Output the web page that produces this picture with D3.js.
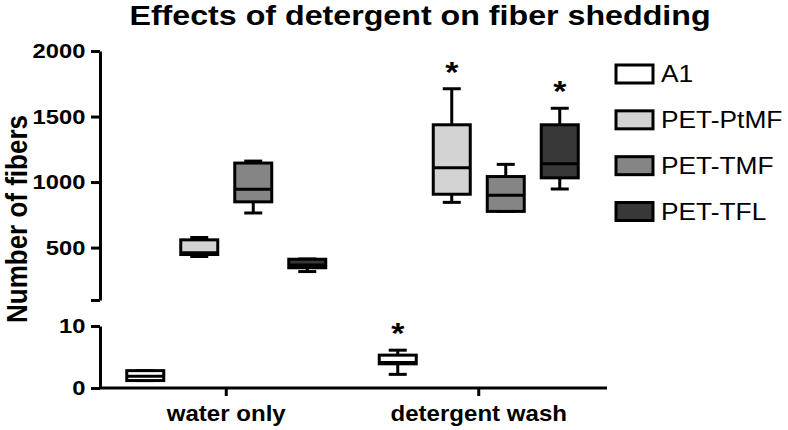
<!DOCTYPE html>
<html>
<head>
<meta charset="utf-8">
<script src="https://cdn.jsdelivr.net/npm/d3@7"></script>
<style>
  body { margin: 0; background: #fff; }
  text { font-family: "Liberation Sans", Arial, sans-serif; fill: #000; }
</style>
</head>
<body>
<div id="chart-area"></div>
<script>
// Data //
const conditions = ["water only", "detergent wash"];
const series = ["A1", "PET-PtMF", "PET-TMF", "PET-TFL"];
const fills = ["#ffffff", "#d3d3d3", "#858585", "#383838"];

// [min, q1, median, q3, max] per condition (water only, detergent wash)
const a1Stats    = [[1.2, 1.2, 1.9, 2.8, 2.8], [2.2, 3.9, 4.1, 5.3, 6.1]];
const ptmfStats  = [[432, 447, 461, 559, 577], [845, 907, 1110, 1437, 1712]];
const tmfStats   = [[764, 849, 945, 1145, 1160], [776, 776, 900, 1042, 1135]];
const tflStats   = [[317, 346, 367, 411, 413], [947, 1032, 1140, 1437, 1563]];
const allStats = [a1Stats, ptmfStats, tmfStats, tflStats];

// significance marks: [series, condition]
const stars = [["A1", "detergent wash"], ["PET-PtMF", "detergent wash"], ["PET-TFL", "detergent wash"]];

const upperTicks = [100, 500, 1000, 1500, 2000];
const lowerTicks = [0, 10];

// Canvas //
const W = 788, H = 430;
const SX = 1.13; // the source picture is stretched sideways

const svg = d3.select("#chart-area")
  .append("svg")
  .attr("width", W)
  .attr("height", H);

// Scales
const x = d3.scaleBand().domain(conditions).range([100, 605]);
const xOff = d3.scalePoint().domain(series).range([-81, 81]);
const yTop = d3.scaleLinear().domain([100, 2000]).range([300, 51]);
const yBot = d3.scaleLinear().domain([0, 10]).range([388, 326]);
const y = v => v < 50 ? yBot(v) : yTop(v);
const boxW = 37, capW = 18;

function stretch(sel) {
  sel.each(function() {
    const t = d3.select(this);
    const tx = +t.attr("x") || 0, ty = +t.attr("y") || 0;
    t.attr("x", 0).attr("y", 0)
      .attr("transform", "translate(" + tx + "," + ty + ") scale(" + SX + ",1)");
  });
}

function stretchAxisText(sel) {
  sel.attr("transform", "scale(" + SX + ",1)");
}

// Title
svg.append("text")
  .attr("x", 420).attr("y", 25)
  .attr("text-anchor", "middle")
  .attr("font-size", "28.5px")
  .attr("font-weight", "bold")
  .text("Effects of detergent on fiber shedding")
  .call(stretch);

// Y label
svg.append("text")
  .attr("transform", "translate(27,219) scale(" + SX + ",1) rotate(-90)")
  .attr("text-anchor", "middle")
  .attr("font-size", "26px")
  .attr("font-weight", "bold")
  .text("Number of fibers");

// Axes
function styleAxis(g) {
  g.selectAll("path, line").attr("stroke", "#000").attr("stroke-width", 3);
  g.selectAll("text")
    .attr("font-size", "21px")
    .attr("font-weight", "bold")
    .attr("font-family", "Liberation Sans, Arial, sans-serif");
}

const yAxisTop = d3.axisLeft(yTop)
  .tickValues(upperTicks)
  .tickSize(9).tickSizeOuter(0).tickPadding(4)
  .tickFormat(d => d === 100 ? "" : d);
svg.append("g")
  .attr("class", "y axis")
  .attr("transform", "translate(100,0)")
  .call(yAxisTop)
  .call(styleAxis)
  .call(g => g.selectAll("text").call(stretchAxisText));

const yAxisBot = d3.axisLeft(yBot)
  .tickValues(lowerTicks)
  .tickSize(9).tickSizeOuter(0).tickPadding(4);
svg.append("g")
  .attr("class", "y axis")
  .attr("transform", "translate(100,0)")
  .call(yAxisBot)
  .call(styleAxis)
  .call(g => g.selectAll("text").call(stretchAxisText));

const xAxis = d3.axisBottom(x)
  .tickSize(8).tickSizeOuter(0).tickPadding(10);
svg.append("g")
  .attr("class", "x axis")
  .attr("transform", "translate(0,388)")
  .call(xAxis)
  .call(styleAxis)
  .call(g => g.select(".domain").attr("d", "M100,0H607"))
  .call(g => g.selectAll("text").attr("font-size", "21.3px").call(stretchAxisText));

// Boxes //
const boxes = [];
series.forEach((s, si) => {
  conditions.forEach((c, ci) => {
    const st = allStats[si][ci];
    boxes.push({series: s, cond: c, fill: fills[si],
      min: st[0], q1: st[1], med: st[2], q3: st[3], max: st[4]});
  });
});

const cx = d => x(d.cond) + x.bandwidth() / 2 + xOff(d.series);

const bg = svg.append("g").selectAll("g").data(boxes).enter().append("g");

bg.append("line")
  .attr("x1", cx).attr("x2", cx)
  .attr("y1", d => y(d.min)).attr("y2", d => y(d.max))
  .attr("stroke", "#000").attr("stroke-width", 3);
bg.append("line")
  .attr("x1", d => cx(d) - capW / 2).attr("x2", d => cx(d) + capW / 2)
  .attr("y1", d => y(d.max)).attr("y2", d => y(d.max))
  .attr("stroke", "#000").attr("stroke-width", 3);
bg.append("line")
  .attr("x1", d => cx(d) - capW / 2).attr("x2", d => cx(d) + capW / 2)
  .attr("y1", d => y(d.min)).attr("y2", d => y(d.min))
  .attr("stroke", "#000").attr("stroke-width", 3);
bg.append("rect")
  .attr("x", d => cx(d) - boxW / 2)
  .attr("width", boxW)
  .attr("y", d => y(d.q3))
  .attr("height", d => y(d.q1) - y(d.q3))
  .attr("fill", d => d.fill)
  .attr("stroke", "#000").attr("stroke-width", 3);
bg.append("line")
  .attr("x1", d => cx(d) - boxW / 2).attr("x2", d => cx(d) + boxW / 2)
  .attr("y1", d => y(d.med)).attr("y2", d => y(d.med))
  .attr("stroke", "#000").attr("stroke-width", 3);

// Stars
svg.append("g").selectAll("text").data(stars).enter().append("text")
  .attr("x", d => cx({series: d[0], cond: d[1]}))
  .attr("y", d => {
    const b = boxes.find(e => e.series === d[0] && e.cond === d[1]);
    return y(b.max) - 7;
  })
  .attr("text-anchor", "middle")
  .attr("font-size", "30px")
  .attr("font-weight", "bold")
  .text("*")
  .call(stretch);

// Legend
const ly = d3.scalePoint().domain(series).range([74, 211.5]);
const leg = svg.append("g").selectAll("g").data(series).enter().append("g");
leg.append("rect")
  .attr("x", 616).attr("y", d => ly(d) - 9)
  .attr("width", 37).attr("height", 18)
  .attr("fill", (d, i) => fills[i])
  .attr("stroke", "#000").attr("stroke-width", 3);
leg.append("text")
  .attr("x", 661).attr("y", d => ly(d) + 8.3)
  .attr("font-size", "23.3px")
  .text(d => d)
  .call(stretch);
</script>
</body>
</html>
